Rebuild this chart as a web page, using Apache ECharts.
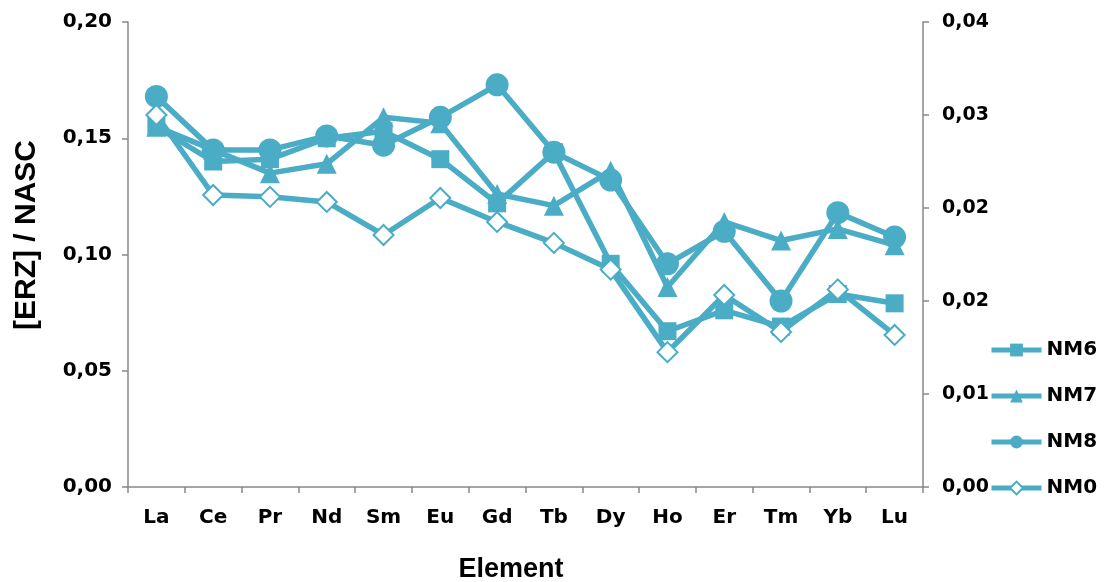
<!DOCTYPE html>
<html>
<head>
<meta charset="utf-8">
<script src="https://cdn.jsdelivr.net/npm/echarts@6/dist/echarts.min.js"></script>
<style>
html,body{margin:0;padding:0;background:#fff;}
#c{width:1105px;height:582px;}
</style>
</head>
<body>
<div id="c"></div>
<script>
const categories = ['La','Ce','Pr','Nd','Sm','Eu','Gd','Tb','Dy','Ho','Er','Tm','Yb','Lu'];
const NM6 = [0.155, 0.140, 0.141, 0.150, 0.153, 0.141, 0.122, 0.144, 0.096, 0.067, 0.076, 0.069, 0.083, 0.079];
const NM7 = [0.155, 0.145, 0.135, 0.139, 0.159, 0.1565, 0.126, 0.121, 0.136, 0.086, 0.114, 0.106, 0.111, 0.104];
const NM8 = [0.168, 0.145, 0.145, 0.151, 0.147, 0.159, 0.173, 0.144, 0.132, 0.096, 0.110, 0.080, 0.118, 0.1075];
const NM0 = [0.160, 0.1256, 0.1248, 0.1226, 0.1084, 0.1243, 0.114, 0.105, 0.0935, 0.058, 0.0826, 0.0667, 0.085, 0.0654];
const leftAxis = {min: 0, max: 0.20, interval: 0.05};
const rightAxis = {min: 0, max: 0.04, interval: 0.008};

const COLOR = '#4BACC6';
const FONT = 'Liberation Sans, Arial, sans-serif';
const LFONT = 'DejaVu Sans, sans-serif';
const fmt = v => v.toFixed(2).replace('.', ',');
const axisLineStyle = {show: true, lineStyle: {color: '#888888', width: 1.5}};

function lineSeries(name, data, symbol, size, filled) {
  return {
    name, type: 'line', data, symbol, symbolSize: size, yAxisIndex: 0,
    showAllSymbol: true,
    lineStyle: {color: COLOR, width: 5.5},
    itemStyle: filled ? {color: COLOR} : {color: '#ffffff', borderColor: COLOR, borderWidth: 2},
    emphasis: {disabled: true},
    z: 2
  };
}

const chart = echarts.init(document.getElementById('c'), null, {renderer: 'canvas'});
chart.setOption({
  animation: false,
  backgroundColor: '#ffffff',
  grid: {left: 128, right: 182, top: 22, bottom: 95, containLabel: false},
  xAxis: {
    type: 'category', data: categories, boundaryGap: true,
    axisLine: axisLineStyle,
    axisTick: {show: true, length: 6, inside: false, lineStyle: {color: '#888888', width: 1.5}},
    axisLabel: {color: '#000', fontFamily: LFONT, fontWeight: 'bold', fontSize: 20, margin: 21},
    splitLine: {show: false}
  },
  yAxis: [
    {
      type: 'value', position: 'left', min: leftAxis.min, max: leftAxis.max, interval: leftAxis.interval,
      axisLine: axisLineStyle,
      axisTick: {show: true, length: 6, lineStyle: {color: '#888888', width: 1.5}},
      axisLabel: {color: '#000', fontFamily: LFONT, fontWeight: 'bold', fontSize: 20, margin: 16, formatter: fmt},
      splitLine: {show: false}
    },
    {
      type: 'value', position: 'right', min: rightAxis.min, max: rightAxis.max, interval: rightAxis.interval,
      axisLine: axisLineStyle,
      axisTick: {show: true, length: 6, lineStyle: {color: '#888888', width: 1.5}},
      axisLabel: {color: '#000', fontFamily: LFONT, fontWeight: 'bold', fontSize: 19, margin: 19, formatter: fmt},
      splitLine: {show: false}
    }
  ],
  legend: {
    orient: 'vertical', left: 984, top: 335,
    itemWidth: 50, itemHeight: 16, itemGap: 26,
    lineStyle: {width: 5},
    textStyle: {color: '#000', fontFamily: LFONT, fontWeight: 'bold', fontSize: 20},
    data: ['NM6', 'NM7', 'NM8', 'NM0']
  },
  graphic: [
    {type: 'text', x: 27, y: 235, rotation: Math.PI / 2,
     style: {text: '[ERZ] / NASC', fill: '#000', font: 'bold 30px ' + FONT, textAlign: 'center', textVerticalAlign: 'middle'}},
    {type: 'text', x: 511, y: 570,
     style: {text: 'Element', fill: '#000', font: 'bold 27px ' + FONT, textAlign: 'center', textVerticalAlign: 'middle'}}
  ],
  series: [
    lineSeries('NM6', NM6, 'rect', 18, true),
    lineSeries('NM7', NM7, 'triangle', 20, true),
    lineSeries('NM8', NM8, 'circle', 23, true),
    lineSeries('NM0', NM0, 'diamond', 20, false)
  ]
});
</script>
</body>
</html>
